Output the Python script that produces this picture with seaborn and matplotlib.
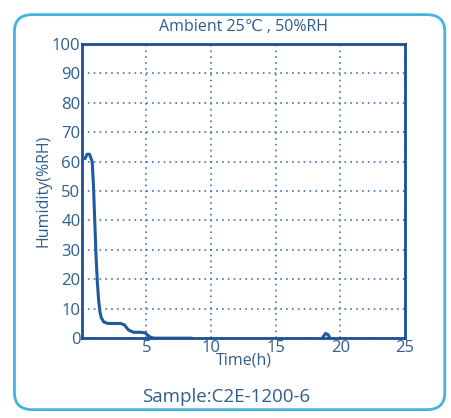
import seaborn as sns
import matplotlib.pyplot as plt
import pandas as pd
from matplotlib.patches import FancyBboxPatch

# humidity curve
time_h = [0.25, 0.4, 0.6, 0.8, 0.9, 1.0, 1.1, 1.2, 1.3, 1.4, 1.5, 1.7, 2.0, 2.5, 3.0,
          3.3, 3.6, 4.0, 4.5, 4.9, 5.1, 5.3, 5.6, 8.5]
humidity = [61, 62.5, 62.5, 60, 52, 40, 28, 19, 13, 9, 7, 5.5, 5, 5, 5,
            4.5, 2.8, 2, 2, 1.8, 1, 0.3, 0, 0]
# small blip near 19 h
blip_time = [18.6, 18.85, 19.05, 19.2]
blip_hum = [0, 1.6, 1.2, 0]

# the x axis shows no "0" label (the y axis one sits there)
x_ticks = [5, 10, 15, 20, 25]
y_ticks = [0, 10, 20, 30, 40, 50, 60, 70, 80, 90, 100]

line_color = "#1f5a9e"
text_color = "#2f5d8f"
grid_color = "#3f74b5"

sns.set_style("white")
plt.rcParams['font.family'] = ['Open Sans', 'DejaVu Sans']

fig = plt.figure(figsize=(4.52, 4.18), dpi=100)
ax = fig.add_axes([0.181, 0.191, 0.715, 0.704])

df = pd.DataFrame({"t": time_h, "h": humidity})
blip = pd.DataFrame({"t": blip_time, "h": blip_hum})
sns.lineplot(data=df, x="t", y="h", ax=ax, color=line_color, linewidth=2.2)
sns.lineplot(data=blip, x="t", y="h", ax=ax, color=line_color, linewidth=2.2)

ax.set_xlim(0, 25)
ax.set_ylim(0, 100)
ax.set_xticks(x_ticks)
ax.set_yticks(y_ticks)
ax.tick_params(axis="both", colors=text_color, labelsize=12, length=0, pad=1)
ax.grid(True, linestyle=(0, (1, 2.5)), color=grid_color, linewidth=1.2)
for s in ax.spines.values():
    s.set_color("#1d4f91")
    s.set_linewidth(2)
ax.set_xlabel("Time(h)", color=text_color, fontsize=11.5, labelpad=-2)
ax.set_ylabel("Humidity(%RH)", color=text_color, fontsize=11.5, labelpad=0)

fig.text(0.538, 0.935, "Ambient 25℃ , 50%RH", ha="center", va="center",
         color=text_color, fontsize=11.5)
fig.text(0.50, 0.05, "Sample:C2E-1200-6", ha="center", va="center",
         color=text_color, fontsize=13.5)

frame = FancyBboxPatch((0.032, 0.02), 0.952, 0.945, transform=fig.transFigure,
                       boxstyle="round,pad=0,rounding_size=0.04",
                       facecolor="none", edgecolor="#45b3e0", linewidth=2)
fig.patches.append(frame)

fig.savefig("out.png", dpi=100)
